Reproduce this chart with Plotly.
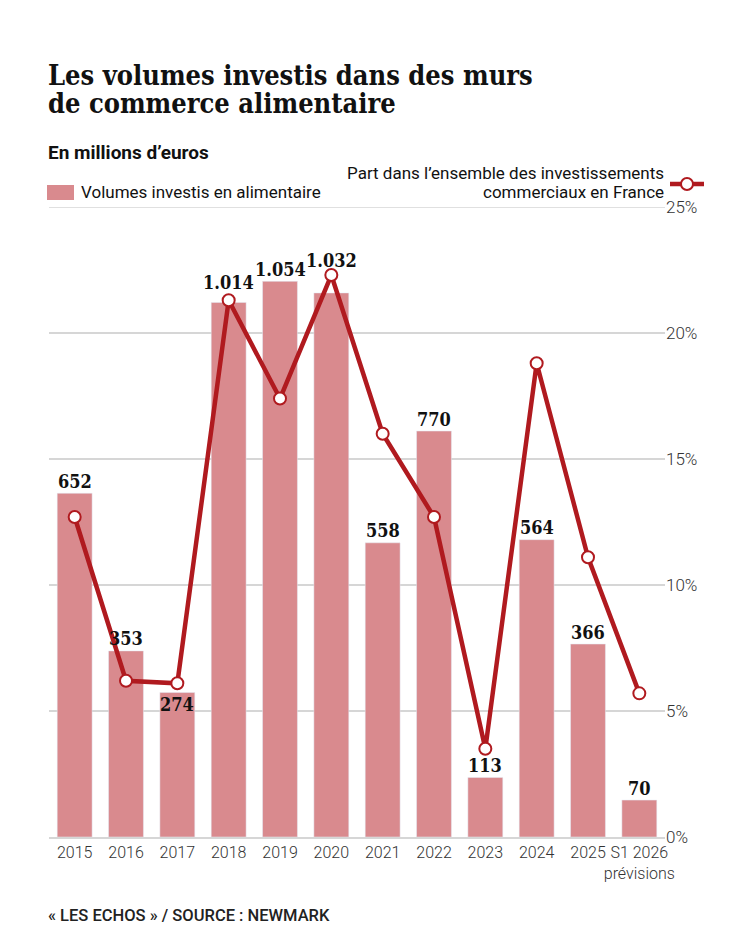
import plotly.graph_objects as go

# Categories (years) and values
years = ["2015", "2016", "2017", "2018", "2019", "2020", "2021",
         "2022", "2023", "2024", "2025", "S1 2026"]
year_labels = years[:-1] + ["S1 2026<br>prévisions"]

# Volumes invested in food retail (millions of euros)
volumes = [652, 353, 274, 1014, 1054, 1032, 558, 770, 113, 564, 366, 70]
volume_text = ["652", "353", "274", "1.014", "1.054", "1.032", "558",
               "770", "113", "564", "366", "70"]

# Share of all retail investment in France (%)
share = [12.7, 6.2, 6.1, 21.3, 17.4, 22.3, 16.0, 12.7, 3.5, 18.8, 11.1, 5.7]

BAR_COLOR = "#d98a8e"
LINE_COLOR = "#b01a1f"
GRID = "#d6d6d6"
SANS = "Roboto, 'Liberation Sans', sans-serif"
SERIF = "'DejaVu Serif Condensed', 'DejaVu Serif', serif"

# page has an 8px body margin, so the figure is drawn 8px in from the corner
OFF = 8
W, H = 750 - OFF, 938 - OFF
PLOT_L, PLOT_R, PLOT_T, PLOT_B = 49, 665, 207, 837   # in screenshot pixels
L, T = PLOT_L - OFF, PLOT_T - OFF
R, B = W - (PLOT_R - OFF), H - (PLOT_B - OFF)


def px(x):
    return (x - PLOT_L) / (PLOT_R - PLOT_L)


def py(y):
    return (PLOT_B - y) / (PLOT_B - PLOT_T)


# extra vertical nudges (px) for labels that collide with the line
label_shift = {"2017": -24, "2018": 8, "2020": 20}

fig = go.Figure()

fig.add_trace(go.Bar(
    x=years, y=volumes, marker_color=BAR_COLOR, yaxis="y",
    hoverinfo="skip", showlegend=False,
))

fig.add_trace(go.Scatter(
    x=years, y=share, yaxis="y2", mode="lines+markers",
    line=dict(color=LINE_COLOR, width=4.5),
    marker=dict(size=12, color="white", line=dict(color=LINE_COLOR, width=2)),
    cliponaxis=False, showlegend=False,
))

annotations = []
for i, (yr, v, t) in enumerate(zip(years, volumes, volume_text)):
    annotations.append(dict(
        x=i, y=v, xref="x", yref="y", text=t, showarrow=False,
        yanchor="middle", yshift=12 + label_shift.get(yr, 0),
        font=dict(family=SERIF, size=18, color="#111", weight="bold"),
    ))

# titles, subtitle, legend text, source
annotations += [
    dict(x=px(46), y=py(75), text="Les volumes investis dans des murs",
         font=dict(family=SERIF, size=27, color="#111", weight="bold")),
    dict(x=px(46), y=py(104), text="de commerce alimentaire",
         font=dict(family=SERIF, size=27, color="#111", weight="bold")),
    dict(x=px(46), y=py(152), text="En millions d’euros",
         font=dict(family=SANS, size=19, color="#111", weight="bold")),
    dict(x=px(79), y=py(192), text="Volumes investis en alimentaire",
         font=dict(family=SANS, size=17, color="#111")),
    dict(x=px(46), y=py(915), text="« LES ECHOS » / SOURCE : NEWMARK",
         font=dict(family=SANS, size=16.5, color="#222", weight=500)),
]
for a in annotations[-5:]:
    a.update(xref="paper", yref="paper", xanchor="left", yanchor="middle",
             showarrow=False)

for txt, yy in [("Part dans l’ensemble des investissements", 173),
                ("commerciaux en France", 192)]:
    annotations.append(dict(
        x=px(666), y=py(yy), xref="paper", yref="paper", text=txt,
        xanchor="right", yanchor="middle", showarrow=False,
        font=dict(family=SANS, size=17, color="#111"),
    ))

shapes = [
    # top (25%) gridline, which plotly leaves out at the range edge
    dict(type="line", xref="paper", yref="y2", x0=0, x1=1, y0=25, y1=25,
         line=dict(color=GRID, width=1.5), layer="below"),
    # legend swatches
    dict(type="rect", xref="paper", yref="paper",
         x0=px(47), x1=px(74), y0=py(200), y1=py(185),
         fillcolor=BAR_COLOR, line=dict(width=0)),
    dict(type="line", xref="paper", yref="paper",
         x0=px(670), x1=px(704), y0=py(184), y1=py(184),
         line=dict(color=LINE_COLOR, width=4.5)),
    dict(type="circle", xref="paper", yref="paper",
         x0=px(681), x1=px(693), y0=py(178), y1=py(190),
         fillcolor="white", line=dict(color=LINE_COLOR, width=2)),
]

fig.update_layout(
    width=W, height=H,
    margin=dict(l=L, r=R, t=T, b=B, autoexpand=False),
    paper_bgcolor="white", plot_bgcolor="white",
    bargap=0.32,
    xaxis=dict(
        type="category", range=[-0.5, len(years) - 0.5],
        tickmode="array", tickvals=years, ticktext=year_labels,
        tickangle=0, automargin=False,
        tickfont=dict(family=SANS, size=16, color="#333", weight=300),
        showgrid=False, showline=True, linecolor=GRID, linewidth=1.5,
        ticks="", fixedrange=True,
    ),
    yaxis=dict(range=[0, 1195], visible=False, fixedrange=True),
    yaxis2=dict(
        range=[0, 25], dtick=5, ticksuffix="%", overlaying="y", side="right",
        showgrid=True, gridcolor=GRID, gridwidth=1.5, zeroline=False,
        automargin=False,
        tickfont=dict(family=SANS, size=17, color="#333", weight=300),
        ticks="", fixedrange=True,
    ),
    annotations=annotations,
    shapes=shapes,
)

fig.write_html("out.html")
